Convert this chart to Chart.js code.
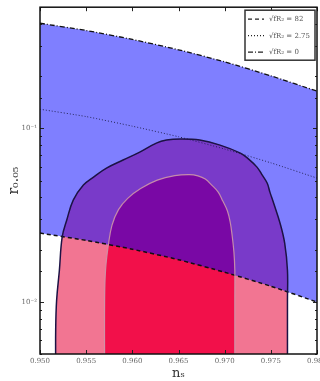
<!DOCTYPE html>
<html>
<head>
<meta charset="utf-8">
<script src="https://cdn.jsdelivr.net/npm/chart.js@4.4.0/dist/chart.umd.min.js"></script>
<style>
  html, body { margin: 0; padding: 0; background: #fff; overflow: hidden; }
  #wrap { position: relative; width: 332px; height: 381px; }
</style>
</head>
<body>
<div id="wrap"><canvas id="chart" width="332" height="381"></canvas></div>
<script>
// x ticks / labels
const nsTicks = [0.950, 0.955, 0.960, 0.965, 0.970, 0.975, 0.980];
const nsLabels = ["0.950", "0.955", "0.960", "0.965", "0.970", "0.975", "0.980"];
// y tick labels (log axis)
const rTickValues = [0.01, 0.1];
const rTickLabels = ["10\u207B\u00B2", "10\u207B\u00B9"];

// band boundary lines
const bandNs = [0.950, 0.955, 0.960, 0.965, 0.970, 0.975, 0.980];
const rUpper = [0.404, 0.367, 0.326, 0.284, 0.242, 0.201, 0.164];     // dash-dot, = 0
const rDotted = [0.129, 0.117, 0.103, 0.0895, 0.076, 0.0633, 0.0517]; // dotted, = 2.75
const rLower = [0.0249, 0.0226, 0.0201, 0.0175, 0.0148, 0.0123, 0.00997]; // dashed, = 82

// 2 sigma contour (outer)
const outerNs = [0.9517, 0.9517, 0.9518, 0.9521, 0.9524, 0.9529, 0.9536, 0.9547, 0.9558, 0.9572, 0.9590, 0.9608, 0.9626,
                 0.9637, 0.9652, 0.9673, 0.9695, 0.9717, 0.9726, 0.9735, 0.9740, 0.9746, 0.9749, 0.9753,
                 0.9760, 0.9765, 0.9768, 0.9768, 0.9768];
const outerR = [0.004, 0.0069, 0.0102, 0.0152, 0.0236, 0.0296, 0.0386, 0.0471, 0.0524, 0.0590, 0.0657, 0.0730, 0.0823,
                0.0856, 0.0868, 0.0856, 0.0801, 0.0720, 0.0665, 0.0598, 0.0545, 0.0484, 0.0429, 0.0371,
                0.0284, 0.0218, 0.0152, 0.0102, 0.004];

// 1 sigma contour (inner)
const innerNs = [0.9570, 0.9570, 0.9571, 0.9574, 0.9578, 0.9585, 0.9595, 0.9609, 0.9627, 0.9646,
                 0.9662, 0.9671, 0.9679, 0.9686, 0.9693, 0.9698, 0.9703, 0.9706, 0.9708, 0.9710,
                 0.9711, 0.9711, 0.9711];
const innerR = [0.004, 0.0102, 0.0152, 0.0212, 0.0277, 0.0340, 0.0395, 0.0450, 0.0503, 0.0534,
                0.0541, 0.0532, 0.0510, 0.0471, 0.0429, 0.0381, 0.0334, 0.0288, 0.0243, 0.0194,
                0.0152, 0.0102, 0.004];

const legendLabels = ["\u221AfR\u2082 = 82", "\u221AfR\u2082 = 2.75", "\u221AfR\u2082 = 0"];
const legendDash = [[4, 3], [1, 2], [5, 2, 1, 2]];

const toPts = (xs, ys) => xs.map((x, i) => ({ x: x, y: ys[i] }));

const serif = "'DejaVu Serif', 'Liberation Serif', serif";

// frame, inward ticks and legend box
const framePlugin = {
    id: "frame",
    afterDatasetsDraw(chart) {
        const ctx = chart.ctx;
        const a = chart.chartArea;
        const xs = chart.scales.x;
        const ys = chart.scales.y;
        ctx.save();
        ctx.strokeStyle = "#222";
        ctx.lineWidth = 1;
        xs.ticks.forEach((t) => {
            const px = Math.round(xs.getPixelForValue(t.value)) + 0.5;
            ctx.beginPath();
            ctx.moveTo(px, a.bottom); ctx.lineTo(px, a.bottom - 4);
            ctx.moveTo(px, a.top); ctx.lineTo(px, a.top + 4);
            ctx.stroke();
        });
        ys.ticks.forEach((t) => {
            const lg = Math.log10(t.value);
            const major = Math.abs(lg - Math.round(lg)) < 1e-6;
            const len = major ? 4 : 2;
            const py = Math.round(ys.getPixelForValue(t.value)) + 0.5;
            ctx.beginPath();
            ctx.moveTo(a.left, py); ctx.lineTo(a.left + len, py);
            ctx.moveTo(a.right, py); ctx.lineTo(a.right - len, py);
            ctx.stroke();
        });
        ctx.lineWidth = 1.5;
        ctx.strokeStyle = "#111";
        ctx.strokeRect(a.left, a.top, a.right - a.left, a.bottom - a.top);

        // legend
        const bx = a.right - 72, by = a.top + 3, bw = 70, bh = 50;
        ctx.fillStyle = "#fff";
        ctx.fillRect(bx, by, bw, bh);
        ctx.lineWidth = 1.5;
        ctx.strokeStyle = "#333";
        ctx.strokeRect(bx, by, bw, bh);
        ctx.font = "7px " + serif;
        ctx.textBaseline = "middle";
        ctx.fillStyle = "#555";
        legendLabels.forEach((lab, i) => {
            const y = by + 9 + i * 16.5;
            ctx.beginPath();
            ctx.setLineDash(legendDash[i]);
            ctx.lineWidth = 1.2;
            ctx.strokeStyle = "#222";
            ctx.moveTo(bx + 3, y); ctx.lineTo(bx + 19, y);
            ctx.stroke();
            ctx.setLineDash([]);
            ctx.fillText(lab, bx + 24, y);
        });
        ctx.restore();
    }
};

const chart = new Chart(document.getElementById("chart"), {
    type: "line",
    data: {
        datasets: [
            {   // outer contour outline
                data: toPts(outerNs, outerR),
                borderColor: "#1c1245", borderWidth: 1.5, fill: false, tension: 0.4
            },
            {   // inner contour outline
                data: toPts(innerNs, innerR),
                borderColor: "rgba(205,150,170,0.9)", borderWidth: 1.2, fill: false, tension: 0.4
            },
            {   // dotted
                data: toPts(bandNs, rDotted),
                borderColor: "#26265a", borderWidth: 1, borderDash: [1, 2], fill: false, tension: 0.2
            },
            {   // lower dashed
                data: toPts(bandNs, rLower),
                borderColor: "#111", borderWidth: 1.5, borderDash: [4, 3], fill: false, tension: 0.2
            },
            {   // upper dash-dot, band fill down to the dashed line
                data: toPts(bandNs, rUpper),
                borderColor: "#111", borderWidth: 1.3, borderDash: [5, 2, 1, 2], tension: 0.2,
                fill: "-1", backgroundColor: "rgba(0,0,255,0.5)"
            },
            {   // inner contour fill
                data: toPts(innerNs, innerR),
                borderColor: "transparent", borderWidth: 1, tension: 0.4,
                fill: "start", backgroundColor: "#f2104a"
            },
            {   // outer contour fill
                data: toPts(outerNs, outerR),
                borderColor: "transparent", borderWidth: 1, tension: 0.4,
                fill: "start", backgroundColor: "#f27592"
            }
        ]
    },
    options: {
        responsive: false,
        devicePixelRatio: 1,
        animation: false,
        events: [],
        layout: { padding: { top: 7, right: 15, left: 0, bottom: 0 } },
        elements: { point: { radius: 0, hoverRadius: 0 } },
        plugins: {
            legend: { display: false },
            tooltip: { enabled: false }
        },
        scales: {
            x: {
                type: "linear",
                min: 0.95,
                max: 0.98,
                afterBuildTicks: (s) => { s.ticks = nsTicks.map((v) => ({ value: v })); },
                afterFit: (s) => { s.height = 27; },
                grid: { display: false, drawTicks: false },
                border: { display: false },
                ticks: {
                    autoSkip: false,
                    maxRotation: 0,
                    padding: 3,
                    color: "#666",
                    font: { family: serif, size: 7 },
                    callback: (v, i) => nsLabels[i]
                },
                title: {
                    display: true,
                    text: "n\u209B",
                    color: "#333",
                    font: { family: serif, size: 13 },
                    padding: { top: 0, bottom: 0 }
                }
            },
            y: {
                type: "logarithmic",
                min: 0.005,
                max: 0.5,
                afterFit: (s) => { s.width = 40; },
                grid: { display: false, drawTicks: false },
                border: { display: false },
                ticks: {
                    autoSkip: false,
                    padding: 3,
                    color: "#666",
                    font: { family: serif, size: 7 },
                    callback: (v) => {
                        const i = rTickValues.findIndex((t) => Math.abs(t - v) / t < 1e-6);
                        return i >= 0 ? rTickLabels[i] : "";
                    }
                },
                title: {
                    display: true,
                    text: "r\u2080.\u2080\u2085",
                    color: "#333",
                    font: { family: serif, size: 14 },
                    padding: { top: 6, bottom: 0 }
                }
            }
        }
    },
    plugins: [framePlugin]
});
</script>
</body>
</html>
